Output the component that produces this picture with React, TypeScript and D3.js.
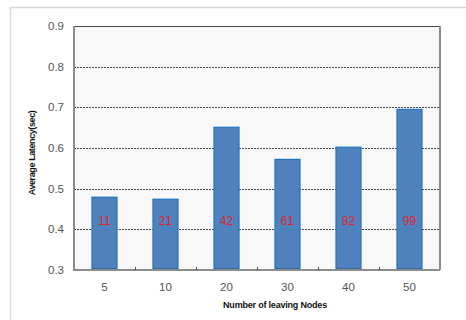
import React from "react";
import * as d3 from "d3";

const categories = ["5", "10", "20", "30", "40", "50"];
const latency = [0.479, 0.474, 0.651, 0.572, 0.602, 0.695];
const counts = ["11", "21", "42", "61", "82", "99"];
const yTicks = [0.3, 0.4, 0.5, 0.6, 0.7, 0.8, 0.9];

const W = 466;
const H = 320;
const plot = { left: 74, top: 26, right: 440, bottom: 270 };

export default function App() {
  const x = d3
    .scaleBand<string>()
    .domain(categories)
    .range([plot.left, plot.right])
    .paddingInner(0.59)
    .paddingOuter(0.295);
  const band = d3.scaleBand<string>().domain(categories).range([plot.left, plot.right]);
  const y = d3.scaleLinear().domain([0.3, 0.9]).range([plot.bottom, plot.top]);
  const font = "'Liberation Sans', Arial, sans-serif";

  return (
    <svg
      width={W}
      height={H}
      style={{ position: "absolute", left: 0, top: 0, background: "#fff" }}
    >
      {/* outer chart frame */}
      <rect x={10.5} y={7.5} width={470} height={330} fill="none" stroke="#d9d9d9" strokeWidth={1.5} />

      {/* plot background */}
      <rect
        x={plot.left}
        y={plot.top}
        width={plot.right - plot.left}
        height={plot.bottom - plot.top}
        fill="#f8f8f8"
      />

      {/* gridlines */}
      {yTicks.slice(1, -1).map((t) => (
        <line
          key={t}
          x1={plot.left}
          x2={plot.right}
          y1={Math.round(y(t)) + 0.5}
          y2={Math.round(y(t)) + 0.5}
          stroke="#4a4a4a"
          strokeWidth={1}
          strokeDasharray="2,1"
        />
      ))}
      <line x1={plot.left} x2={plot.right} y1={plot.top + 0.5} y2={plot.top + 0.5} stroke="#4a4a4a" strokeWidth={1} />
      <line x1={plot.right} x2={plot.right} y1={plot.top} y2={plot.bottom} stroke="#8c8c8c" strokeWidth={2} />

      {/* bars */}
      {categories.map((c, i) => (
        <g key={c}>
          <rect
            x={x(c)!}
            y={y(latency[i])}
            width={x.bandwidth()}
            height={plot.bottom - y(latency[i])}
            fill="#4f81bd"
            stroke="#1f74c4"
            strokeWidth={1.2}
          />
          <line
            x1={x(c)!}
            x2={x(c)! + x.bandwidth()}
            y1={plot.bottom - 1}
            y2={plot.bottom - 1}
            stroke="#1b4f80"
            strokeWidth={1}
          />
          <text
            x={x(c)! + x.bandwidth() / 2}
            y={y(0.42)}
            dy="0.35em"
            textAnchor="middle"
            fill="#e3222d"
            fontSize={12}
            fontFamily={font}
          >
            {counts[i]}
          </text>
        </g>
      ))}

      {/* axes */}
      <line x1={plot.left} x2={plot.left} y1={plot.top} y2={plot.bottom + 1} stroke="#8c8c8c" strokeWidth={2} />
      <line x1={plot.left} x2={plot.right} y1={plot.bottom} y2={plot.bottom} stroke="#8c8c8c" strokeWidth={2} />
      {categories.slice(1).map((c) => (
        <line
          key={c}
          x1={band(c)! + 0.5}
          x2={band(c)! + 0.5}
          y1={plot.bottom - 3}
          y2={plot.bottom}
          stroke="#555"
          strokeWidth={1}
        />
      ))}

      {yTicks.map((t) => (
        <text
          key={t}
          x={64}
          y={y(t)}
          dy="0.35em"
          textAnchor="end"
          fill="#555"
          fontSize={11.5}
          fontFamily={font}
        >
          {t.toFixed(1)}
        </text>
      ))}
      {categories.map((c) => (
        <text
          key={c}
          x={band(c)! + band.bandwidth() / 2}
          y={287}
          dy="0.35em"
          textAnchor="middle"
          fill="#555"
          fontSize={11.5}
          fontFamily={font}
        >
          {c}
        </text>
      ))}

      {/* axis titles */}
      <text
        x={275}
        y={305}
        dy="0.35em"
        textAnchor="middle"
        fill="#111"
        fontSize={9}
        fontWeight="bold"
        fontFamily={font}
        letterSpacing={-0.2}
      >
        Number of leaving Nodes
      </text>
      <text
        transform={`translate(32,153) rotate(-90)`}
        dy="0.35em"
        textAnchor="middle"
        fill="#111"
        fontSize={9}
        fontWeight="bold"
        fontFamily={font}
        letterSpacing={-0.4}
      >
        Average Latency(sec)
      </text>
    </svg>
  );
}
